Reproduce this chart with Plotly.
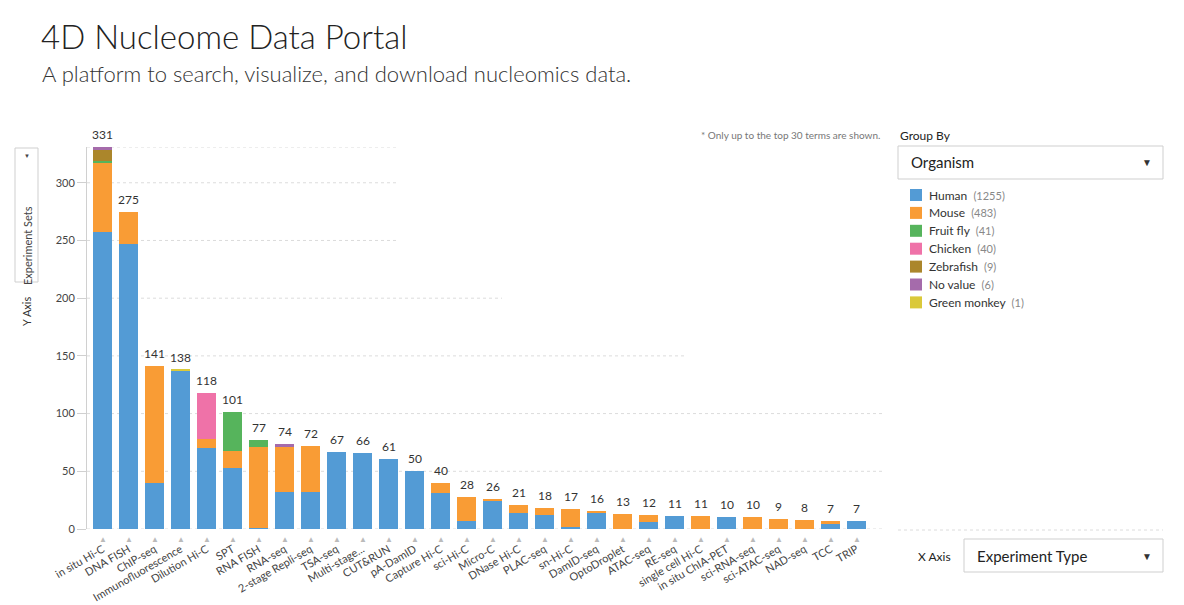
import plotly.graph_objects as go

# --- data -------------------------------------------------------------
experiment_types = [
    "in situ Hi-C", "DNA FISH", "ChIP-seq", "Immunofluorescence", "Dilution Hi-C",
    "SPT", "RNA FISH", "RNA-seq", "2-stage Repli-seq", "TSA-seq",
    "Multi-stage...", "CUT&RUN", "pA-DamID", "Capture Hi-C", "sci-Hi-C",
    "Micro-C", "DNase Hi-C", "PLAC-seq", "sn-Hi-C", "DamID-seq",
    "OptoDroplet", "ATAC-seq", "RE-seq", "single cell Hi-C", "in situ ChIA-PET",
    "sci-RNA-seq", "sci-ATAC-seq", "NAD-seq", "TCC", "TRIP",
]

human = [257, 247, 40, 137, 70, 53, 1, 32, 32, 67, 66, 61, 50, 31, 7,
         24, 14, 12, 2, 14, 0, 6, 11, 0, 10, 0, 0, 0, 4, 7]
mouse = [60, 28, 101, 0, 8, 15, 70, 39, 40, 0, 0, 0, 0, 9, 21,
         2, 7, 6, 15, 2, 13, 6, 0, 11, 0, 10, 9, 8, 3, 0]
fruit_fly = [2, 0, 0, 0, 0, 33, 6, 0, 0, 0, 0, 0, 0, 0, 0,
             0, 0, 0, 0, 0, 0, 0, 0, 0, 0, 0, 0, 0, 0, 0]
chicken = [0, 0, 0, 0, 40, 0, 0, 0, 0, 0, 0, 0, 0, 0, 0,
           0, 0, 0, 0, 0, 0, 0, 0, 0, 0, 0, 0, 0, 0, 0]
zebrafish = [9, 0, 0, 0, 0, 0, 0, 0, 0, 0, 0, 0, 0, 0, 0,
             0, 0, 0, 0, 0, 0, 0, 0, 0, 0, 0, 0, 0, 0, 0]
no_value = [3, 0, 0, 0, 0, 0, 0, 3, 0, 0, 0, 0, 0, 0, 0,
            0, 0, 0, 0, 0, 0, 0, 0, 0, 0, 0, 0, 0, 0, 0]
green_monkey = [0, 0, 0, 1, 0, 0, 0, 0, 0, 0, 0, 0, 0, 0, 0,
                0, 0, 0, 0, 0, 0, 0, 0, 0, 0, 0, 0, 0, 0, 0]

organisms = ["Human", "Mouse", "Fruit fly", "Chicken", "Zebrafish", "No value", "Green monkey"]
organism_counts = [1255, 483, 41, 40, 9, 6, 1]
organism_colors = ["#539bd5", "#f99c35", "#56b45c", "#ef72a8", "#ab862b", "#a56bab", "#dac93a"]
series = [human, mouse, fruit_fly, chicken, zebrafish, no_value, green_monkey]

y_ticks = [0, 50, 100, 150, 200, 250, 300]

# --- geometry helpers (pixels -> paper) -------------------------------
W, H = 1184, 605
L, R, T, B = 87, 880, 147, 529


def px(x):
    return (x - L) / (R - L)


def py(y):
    return (B - y) / (B - T)


FONT = "Lato"

fig = go.Figure()
for name, vals, col in zip(organisms, series, organism_colors):
    fig.add_trace(go.Bar(x=experiment_types, y=vals, name=name,
                         marker=dict(color=col, line=dict(width=0))))

totals = [sum(v) for v in zip(*series)]

annotations = []
for cat, tot in zip(experiment_types, totals):
    annotations.append(dict(x=cat, y=tot, xref="x", yref="y", text=str(tot),
                            showarrow=False, yanchor="bottom", yshift=3,
                            font=dict(size=12, color="#333")))
    annotations.append(dict(x=cat, y=0, xref="x", yref="y", text="▲",
                            showarrow=False, yanchor="top", yshift=-3,
                            font=dict(size=8, color="#bbb")))


def txt(x, y, s, size=12, color="#333", anchor="left", angle=0, weight=None, family=FONT):
    f = dict(size=size, color=color, family=family)
    if weight:
        f["weight"] = weight
    annotations.append(dict(x=px(x), y=py(y), xref="paper", yref="paper", text=s,
                            showarrow=False, xanchor=anchor, yanchor="middle",
                            textangle=angle, font=f))


LIGHT = "Lato Light, Lato"
txt(39, 36, "4D Nucleome Data Portal", size=33, color="#222", weight=300, family=LIGHT)
txt(40, 73, "A platform to search, visualize, and download nucleomics data.",
    size=22, color="#333", weight=300, family=LIGHT)
txt(882, 135, "* Only up to the top 30 terms are shown.", size=10, color="#777", anchor="right")
txt(898, 135, "Group By", size=12, color="#222")
txt(909, 162, "Organism", size=15, color="#222")
txt(1147, 162, "▼", size=10, color="#333", anchor="center")
txt(953, 556, "X Axis", size=12, color="#222", anchor="right")
txt(975, 556, "Experiment Type", size=15, color="#222")
txt(1147, 556, "▼", size=10, color="#333", anchor="center")
txt(26, 312, "Y Axis", size=11, color="#333", anchor="center", angle=-90)
txt(27, 246, "Experiment Sets", size=11, color="#444", anchor="center", angle=-90)
txt(27, 155, "▼", size=6, color="#444", anchor="center")

shapes = []
gray_dot = dict(color="#dcdcdc", width=1, dash="dot")
grid_ends = {0: 882, 50: 882, 100: 882, 150: 686, 200: 502, 250: 396, 300: 396, 331: 396}
for yv, xend in grid_ends.items():
    shapes.append(dict(type="line", xref="paper", yref="y", x0=0, x1=px(xend),
                       y0=yv, y1=yv, line=gray_dot, layer="below"))
shapes.append(dict(type="line", xref="paper", yref="paper", x0=px(898), x1=px(1163),
                   y0=py(530), y1=py(530), line=gray_dot))

box_line = dict(color="#cfcfcf", width=1)
for x0, y0, x1, y1 in [(898, 146, 1163, 179), (964, 539, 1163, 572), (15, 148, 38, 282)]:
    shapes.append(dict(type="rect", xref="paper", yref="paper", x0=px(x0), x1=px(x1),
                       y0=py(y0), y1=py(y1), line=box_line))

for i, (name, cnt, col) in enumerate(zip(organisms, organism_counts, organism_colors)):
    yc = 195 + 17.9 * i
    shapes.append(dict(type="rect", xref="paper", yref="paper", x0=px(910), x1=px(922),
                       y0=py(yc - 6), y1=py(yc + 6), fillcolor=col, line=dict(width=0)))
    txt(927, yc, f"{name}  <span style='color:#888;font-size:11px'>({cnt})</span>",
        size=12, color="#333")

fig.update_layout(
    width=W, height=H,
    margin=dict(l=L, r=W - R, t=T, b=H - B),
    barmode="stack", bargap=0.27,
    showlegend=False,
    plot_bgcolor="white", paper_bgcolor="white",
    font=dict(family=FONT, size=12, color="#444"),
    xaxis=dict(type="category", range=[-0.6, 29.9], showgrid=False, showline=False,
               ticks="", tickangle=-30, ticklabelstandoff=11, automargin=False,
               tickfont=dict(size=11, color="#444")),
    yaxis=dict(range=[0, 331], tickvals=y_ticks, showgrid=False, zeroline=False,
               showline=True, linecolor="#d0d0d0", ticks="outside", ticklen=9,
               tickcolor="#d0d0d0", automargin=False, tickfont=dict(size=11, color="#444")),
    annotations=annotations,
    shapes=shapes,
)

# page has a default 8px body margin; drop it so the figure sits at 0,0
fig.write_html("out.html", config={"displayModeBar": False},
               post_script="document.body.style.margin='0px';")
